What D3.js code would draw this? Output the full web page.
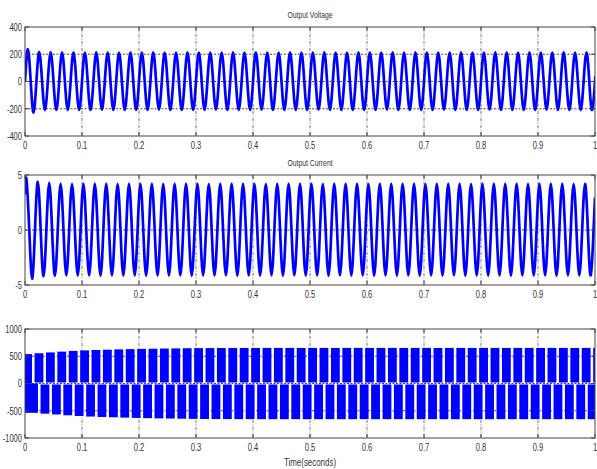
<!DOCTYPE html>
<html>
<head>
<meta charset="utf-8">
<title>Output Voltage / Current</title>
<script src="https://d3js.org/d3.v7.min.js"></script>
<style>
  body { margin: 0; background: #fff; }
  text { font-family: "Liberation Sans", Arial, sans-serif; fill: #333; }
</style>
</head>
<body>
<script>
const width = 597;
const height = 469;

// time axis
const xTicks = [0, 0.1, 0.2, 0.3, 0.4, 0.5, 0.6, 0.7, 0.8, 0.9, 1];
const period = 0.02;     // 50 Hz

// output voltage: positive / negative peak of each cycle
const voltPos = [238, 216, 215, 214, 214, 213, 214, 213, 212, 214,
                 213, 214, 212, 213, 214, 213, 212, 213, 214, 213,
                 214, 213, 212, 214, 213, 213, 214, 212, 213, 214,
                 213, 212, 214, 213, 214, 213, 212, 213, 214, 213,
                 212, 214, 213, 213, 214, 212, 213, 214, 213, 213];
const voltNeg = [-228, -210, -209, -208, -209, -208, -207, -208, -209, -208,
                 -208, -207, -208, -209, -208, -208, -207, -208, -209, -208,
                 -207, -208, -208, -209, -208, -207, -208, -208, -209, -208,
                 -208, -207, -208, -209, -208, -208, -207, -208, -209, -208,
                 -207, -208, -208, -209, -208, -207, -208, -208, -209, -208];
const voltTicks = [-400, -200, 0, 200, 400];

// output current: peaks of each cycle (leads voltage slightly)
const currPos = [4.62, 4.38, 4.28, 4.2, 4.18, 4.2, 4.19, 4.2, 4.18, 4.2,
                 4.19, 4.2, 4.18, 4.2, 4.19, 4.2, 4.18, 4.19, 4.2, 4.19,
                 4.2, 4.18, 4.19, 4.2, 4.19, 4.2, 4.18, 4.2, 4.19, 4.2,
                 4.18, 4.19, 4.2, 4.19, 4.2, 4.18, 4.2, 4.19, 4.2, 4.18,
                 4.19, 4.2, 4.19, 4.2, 4.18, 4.2, 4.19, 4.2, 4.18, 4.2];
const currNeg = [-4.42, -4.2, -4.15, -4.12, -4.13, -4.12, -4.14, -4.12, -4.13, -4.12,
                 -4.14, -4.12, -4.13, -4.12, -4.14, -4.12, -4.13, -4.12, -4.14, -4.12,
                 -4.13, -4.12, -4.14, -4.12, -4.13, -4.12, -4.14, -4.12, -4.13, -4.12,
                 -4.14, -4.12, -4.13, -4.12, -4.14, -4.12, -4.13, -4.12, -4.14, -4.12,
                 -4.13, -4.12, -4.14, -4.12, -4.13, -4.12, -4.14, -4.12, -4.13, -4.12];
const currShift = -0.0025;
const currStart = 3.25;
const currEnd = 2.95;
const currTicks = [-5, 0, 5];

// inverter (PWM) voltage: envelope of each cycle's pulse block
const pwmPos = [540, 555, 570, 585, 598, 608, 615, 620, 626, 631,
                635, 638, 641, 644, 647, 649, 650, 651, 652, 652,
                652, 653, 653, 653, 652, 653, 653, 652, 653, 653,
                652, 653, 653, 652, 653, 653, 652, 653, 653, 652,
                653, 653, 652, 653, 653, 652, 653, 653, 652, 653];
const pwmNeg = [-538, -553, -568, -583, -596, -606, -614, -620, -626, -631,
                -636, -640, -643, -646, -649, -651, -652, -653, -654, -654,
                -654, -655, -655, -654, -655, -655, -654, -655, -655, -654,
                -655, -655, -654, -655, -655, -654, -655, -655, -654, -655,
                -655, -654, -655, -655, -654, -655, -655, -654, -655, -655];
const pwmPosGapAt = 0.0145;   // no positive pulses around here in each cycle
const pwmNegGapAt = 0.005;    // no negative pulses around here in each cycle
const pwmGap = 0.0045;
const pwmTicks = [-1000, -500, 0, 500, 1000];

const left = 25, right = 595;
const panels = [
    { id: "v", top: 27, bottom: 136, ticks: voltTicks, title: "Output Voltage" },
    { id: "c", top: 175, bottom: 285, ticks: currTicks, title: "Output Current" },
    { id: "p", top: 329, bottom: 438, ticks: pwmTicks, title: null }
];

const x = d3.scaleLinear().domain([0, 1]).range([left, right]);
const sx = 0.72;   // narrow font look

const svg = d3.select("body").append("svg")
    .attr("width", width)
    .attr("height", height)
    .style("background", "#fff");

const textLayer = svg.append("g").attr("transform", `scale(${sx},1)`);
function label(px, py, str, anchor, size) {
    textLayer.append("text")
        .attr("x", px / sx).attr("y", py)
        .attr("text-anchor", anchor).attr("font-size", size)
        .text(str);
}

const line = d3.line().x(d => x(d.t)).y(d => d.y).curve(d3.curveNatural);

function sinePoints(pos, neg, shift) {
    const pts = [];
    pos.forEach((p, k) => {
        const t0 = k * period + shift;
        pts.push({ t: t0, v: 0 });
        pts.push({ t: t0 + period / 4, v: p });
        pts.push({ t: t0 + period / 2, v: 0 });
        pts.push({ t: t0 + 3 * period / 4, v: neg[k] });
    });
    pts.push({ t: pos.length * period + shift, v: 0 });
    return pts.filter(d => d.t >= 0 && d.t <= 1);
}

panels.forEach(p => {
    const lo = p.ticks[0], hi = p.ticks[p.ticks.length - 1];
    const y = d3.scaleLinear().domain([lo, hi]).range([p.bottom, p.top]);
    const g = svg.insert("g", () => textLayer.node());

    svg.append("clipPath").attr("id", "clip-" + p.id)
        .append("rect").attr("x", left).attr("y", p.top)
        .attr("width", right - left).attr("height", p.bottom - p.top);

    // grid
    g.selectAll(".vg").data(xTicks.slice(1, -1)).join("line")
        .attr("x1", d => x(d)).attr("x2", d => x(d))
        .attr("y1", p.top).attr("y2", p.bottom)
        .attr("stroke", "#666").attr("stroke-width", 0.9)
        .attr("stroke-dasharray", "3,1.5,1,1.5");
    g.selectAll(".hg").data(p.ticks.slice(1, -1)).join("line")
        .attr("x1", left).attr("x2", right)
        .attr("y1", d => y(d)).attr("y2", d => y(d))
        .attr("stroke", "#333").attr("stroke-width", 0.9)
        .attr("stroke-dasharray", "2,1.5");

    const data = g.append("g").attr("clip-path", `url(#clip-${p.id})`);

    if (p.id === "v" || p.id === "c") {
        let pts = p.id === "v" ? sinePoints(voltPos, voltNeg, 0)
                               : sinePoints(currPos, currNeg, currShift);
        if (p.id === "v") {
            pts.push({ t: 1, v: 0 });
        } else {
            pts.unshift({ t: 0, v: currStart });
            pts.push({ t: 1, v: currEnd });
        }
        pts.forEach(d => d.y = y(d.v));
        data.append("path")
            .attr("d", line(pts))
            .attr("fill", "none")
            .attr("stroke", "#0000ff")
            .attr("stroke-width", 2.7)
            .attr("stroke-linejoin", "round");
    } else {
        // pulse blocks between gaps
        const blocks = [];
        pwmPos.forEach((a, k) => {
            const start = k === 0 ? 0 : (k - 1) * period + pwmPosGapAt + pwmGap / 2;
            const end = k * period + pwmPosGapAt - pwmGap / 2;
            blocks.push({ t0: start, t1: end, v: a, first: k === 0 });
        });
        blocks.push({ t0: 49 * period + pwmPosGapAt + pwmGap / 2, t1: 1, v: pwmPos[49], first: false });
        pwmNeg.forEach((a, k) => {
            const start = k === 0 ? 0 : (k - 1) * period + pwmNegGapAt + pwmGap / 2 + period;
            const end = (k + 1) * period + pwmNegGapAt - pwmGap / 2;
            if (start < 1) blocks.push({ t0: start, t1: Math.min(end, 1), v: a, first: k === 0 });
        });
        data.selectAll("rect").data(blocks).join("rect")
            .attr("x", d => x(d.t0))
            .attr("width", d => x(d.t1) - x(d.t0))
            .attr("y", d => d.v > 0 ? y(d.v) : y(0) + (d.first ? 0 : 1))
            .attr("height", d => d.v > 0 ? y(0) - y(d.v) - (d.first ? 0 : 1)
                                         : y(d.v) - y(0) - (d.first ? 0 : 1))
            .attr("fill", "#0000ff");
    }

    // box
    g.append("rect")
        .attr("x", left).attr("y", p.top)
        .attr("width", right - left).attr("height", p.bottom - p.top)
        .attr("fill", "none").attr("stroke", "#444").attr("stroke-width", 1);

    // inward ticks
    g.selectAll(".xt").data(xTicks).join("path")
        .attr("d", d => `M${x(d)},${p.bottom}v-4M${x(d)},${p.top}v4`)
        .attr("stroke", "#444");
    g.selectAll(".yt").data(p.ticks).join("path")
        .attr("d", d => `M${left},${y(d)}h4M${right},${y(d)}h-4`)
        .attr("stroke", "#444");

    // labels
    xTicks.forEach(d => label(x(d), p.bottom + 13, d3.format("~g")(d), "middle", 10.5));
    p.ticks.forEach(d => label(left - 3, y(d) + 3.8, String(d), "end", 10.5));

    if (p.title) label((left + right) / 2, p.top - 9, p.title, "middle", 9.5);
});

label((left + right) / 2, 466, "Time(seconds)", "middle", 11);
</script>
</body>
</html>
